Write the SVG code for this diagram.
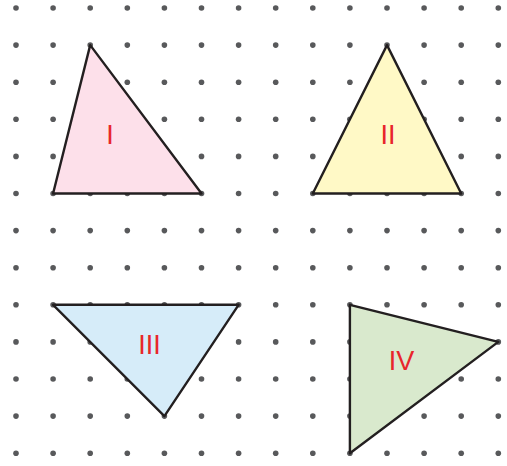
<svg xmlns="http://www.w3.org/2000/svg" width="507" height="466" viewBox="0 0 507 466">
<defs>
<style>
.tri{stroke:#231f20;stroke-width:2.4;stroke-linejoin:round}
.lbl{font-family:"Liberation Sans",Arial,sans-serif;font-size:27px;fill:#e8262a;text-anchor:middle}
.d{fill:#58595b}
</style>
<g id="row">
<circle class="d" cx="16" cy="0" r="2.8"/>
<circle class="d" cx="53.1" cy="0" r="2.8"/>
<circle class="d" cx="90.2" cy="0" r="2.8"/>
<circle class="d" cx="127.3" cy="0" r="2.8"/>
<circle class="d" cx="164.4" cy="0" r="2.8"/>
<circle class="d" cx="201.5" cy="0" r="2.8"/>
<circle class="d" cx="238.6" cy="0" r="2.8"/>
<circle class="d" cx="275.7" cy="0" r="2.8"/>
<circle class="d" cx="312.8" cy="0" r="2.8"/>
<circle class="d" cx="349.9" cy="0" r="2.8"/>
<circle class="d" cx="387" cy="0" r="2.8"/>
<circle class="d" cx="424.1" cy="0" r="2.8"/>
<circle class="d" cx="461.2" cy="0" r="2.8"/>
<circle class="d" cx="498.3" cy="0" r="2.8"/>
</g>
</defs>
<rect width="507" height="466" fill="#fff"/>
<g id="grid">
<use href="#row" y="8"/>
<use href="#row" y="45.1"/>
<use href="#row" y="82.2"/>
<use href="#row" y="119.3"/>
<use href="#row" y="156.4"/>
<use href="#row" y="193.5"/>
<use href="#row" y="230.6"/>
<use href="#row" y="267.7"/>
<use href="#row" y="304.8"/>
<use href="#row" y="341.9"/>
<use href="#row" y="379"/>
<use href="#row" y="416.1"/>
<use href="#row" y="453.2"/>
</g>
<g id="tri1">
<polygon class="tri" points="90.2,45.1 53.1,193.5 201.5,193.5" fill="#fde0ea"/>
<text class="lbl" x="110" y="144">I</text>
</g>
<g id="tri2">
<polygon class="tri" points="387,45.1 312.8,193.5 461.2,193.5" fill="#fff9c6"/>
<text class="lbl" x="388" y="144">II</text>
</g>
<g id="tri3">
<polygon class="tri" points="53.1,304.8 238.6,304.8 164.4,416.1" fill="#d6ecf9"/>
<text class="lbl" x="149.5" y="354">III</text>
</g>
<g id="tri4">
<polygon class="tri" points="349.9,304.8 498.3,341.9 349.9,453.2" fill="#d9e9cd"/>
<text class="lbl" x="401.5" y="370">IV</text>
</g>
</svg>
